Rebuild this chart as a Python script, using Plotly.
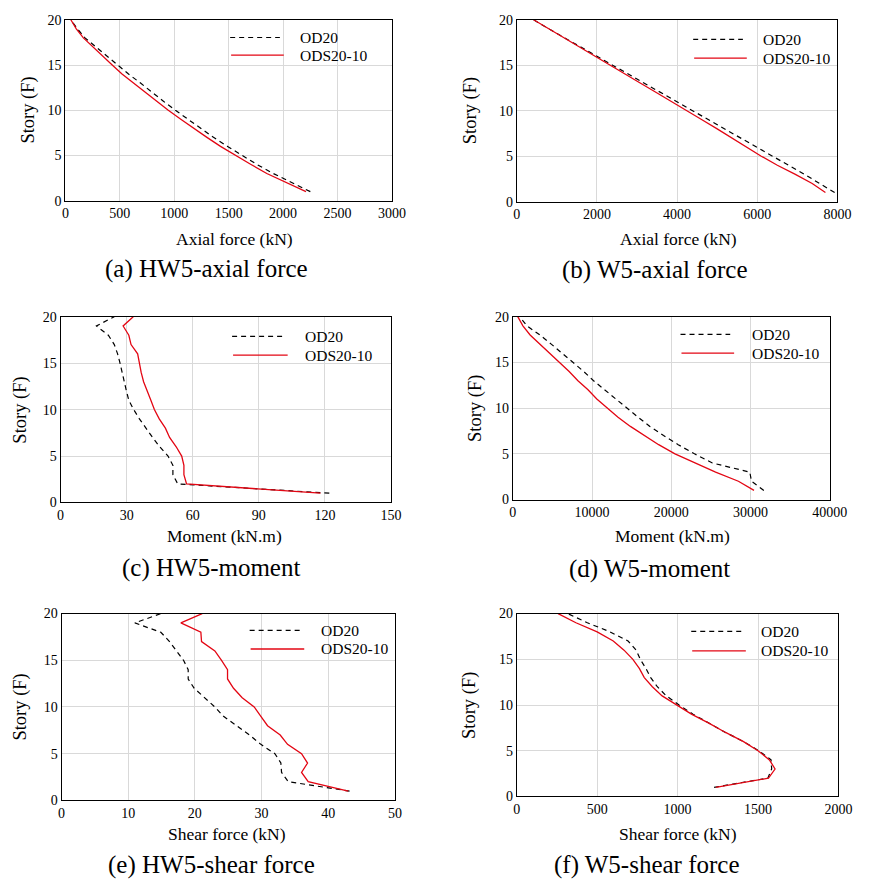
import plotly.graph_objects as go

W, H = 873, 889
FONT = "'Liberation Serif', 'Times New Roman', Times, serif"

stories = list(range(1, 21))

# (a) HW5 axial force (kN), story 1..20
a_od20 = [2250, 2080, 1910, 1760, 1620, 1490, 1360, 1240, 1120, 1010, 900, 800, 690, 580, 480, 370, 270, 180, 110, 50]
a_ods = [2210, 2025, 1850, 1705, 1565, 1425, 1300, 1175, 1060, 945, 840, 730, 630, 520, 430, 340, 250, 165, 100, 50]
# (b) W5 axial force (kN)
b_od20 = [7930, 7570, 7180, 6780, 6380, 5980, 5580, 5180, 4780, 4380, 3980, 3580, 3180, 2780, 2380, 1980, 1580, 1190, 800, 420]
b_ods = [7700, 7370, 6950, 6500, 6100, 5740, 5380, 5000, 4620, 4230, 3870, 3480, 3100, 2720, 2330, 1950, 1560, 1180, 800, 420]
# (c) HW5 moment (kN.m)
c_od20 = [122, 53.2, 51, 51, 48.8, 45, 41.8, 38.7, 35.8, 33.2, 31, 29.9, 29, 28, 27, 25.9, 24.4, 21.7, 16.3, 24.4]
c_ods = [118, 57.2, 56, 56, 55, 52.5, 49.5, 47.6, 44.8, 42.6, 41, 39.2, 37.7, 36.6, 35.8, 35, 32, 31, 28.4, 33]
# (d) W5 moment (kN.m)
d_od20 = [31690, 30130, 29920, 25190, 22930, 20880, 19030, 17300, 15820, 14430, 12990, 11630, 10190, 8960, 7600, 6290, 4850, 3410, 1770, 860]
d_ods = [30450, 28480, 25600, 22930, 20470, 18410, 16560, 14840, 13280, 11920, 10600, 9490, 8220, 7110, 5880, 4640, 3410, 2180, 1270, 620]
# (e) HW5 shear force (kN)
e_od20 = [43.2, 34, 33, 32.9, 32, 29.9, 28.2, 26.2, 24.3, 23, 21.4, 19.9, 19, 19, 18.3, 17.3, 16.2, 14.9, 11, 14.9]
e_ods = [43, 37, 36, 36.9, 36, 33.9, 32.8, 30.9, 29.9, 28.9, 27.1, 25.8, 24.9, 24.9, 24, 23, 21, 20.9, 17.9, 21.1]
# (f) W5 shear force (kN)
f_od20 = [1227, 1561, 1585, 1581, 1505, 1410, 1298, 1197, 1096, 1009, 930, 874, 833, 803, 768, 742, 692, 580, 439, 317]
f_ods = [1238, 1565, 1606, 1571, 1500, 1410, 1298, 1197, 1086, 995, 904, 843, 793, 762, 722, 667, 600, 500, 368, 257]

series_names = ["OD20", "ODS20-10"]
x_titles = ["Axial force (kN)", "Axial force (kN)", "Moment (kN.m)", "Moment (kN.m)",
            "Shear force (kN)", "Shear force (kN)"]
captions = ["(a) HW5-axial force", "(b) W5-axial force", "(c) HW5-moment",
            "(d) W5-moment", "(e) HW5-shear force", "(f) W5-shear force"]
x_ranges = [(0, 3000), (0, 8000), (0, 150), (0, 40000), (0, 50), (0, 2000)]
x_dticks = [500, 2000, 30, 10000, 10, 500]
data = [(a_od20, a_ods), (b_od20, b_ods), (c_od20, c_ods),
        (d_od20, d_ods), (e_od20, e_ods), (f_od20, f_ods)]

# plot areas in pixels: (left, right, top, bottom)
boxes = [(63, 398, 13, 197), (526, 855, 13, 198), (58, 397, 315, 504),
         (522, 847, 315, 501), (59, 401, 617, 807), (526, 856, 617, 803)]
xtitle_pos = [(236, 236), (692, 236), (226, 538), (686, 538), (229, 841), (691, 841)]
ytitle_pos = [(25, 105), (478, 105), (17, 410), (483, 408), (17, 712), (477, 710)]
cap_pos = [(208, 266), (668, 268), (212, 571), (662, 572), (213, 873), (660, 873)]
# legend: (line x0, line x1 dashed, y dashed, y solid, text x)
leg_pos = [(232, 283, 31, 49, 302), (707, 758, 33, 52, 777), (234, 287, 335, 354, 307),
           (694, 745, 333, 352, 765), (252, 304, 634, 653, 323), (705, 757, 635, 655, 775)]

def px(x):
    return x / W

def py(y):
    return 1 - y / H

RED = "#e30613"
fig = go.Figure()
layout = dict(width=W, height=H, margin=dict(l=0, r=0, t=0, b=0),
              paper_bgcolor="white", plot_bgcolor="white", showlegend=False,
              font=dict(family=FONT, color="black"))
annotations = []
shapes = []
for i in range(6):
    k = "" if i == 0 else str(i + 1)
    od, ods = data[i]
    fig.add_trace(go.Scatter(x=od, y=stories, mode="lines", name=series_names[0],
                             line=dict(color="black", width=1.2, dash="5px,4px"),
                             xaxis="x" + k, yaxis="y" + k))
    fig.add_trace(go.Scatter(x=ods, y=stories, mode="lines", name=series_names[1],
                             line=dict(color=RED, width=1.3),
                             xaxis="x" + k, yaxis="y" + k))
    l, r, t, b = boxes[i]
    layout["xaxis" + k] = dict(domain=[px(l), px(r)], anchor="y" + k,
                               range=list(x_ranges[i]), dtick=x_dticks[i], tick0=0,
                               tickformat="d",
                               showgrid=True, gridcolor="#d9d9d9", gridwidth=1,
                               zeroline=False, showline=True, linecolor="black",
                               linewidth=1, mirror=True, ticks="",
                               tickfont=dict(family=FONT, size=14, color="black"))
    layout["yaxis" + k] = dict(domain=[py(b), py(t)], anchor="x" + k,
                               range=[0, 20], dtick=5, tick0=0,
                               showgrid=True, gridcolor="#d9d9d9", gridwidth=1,
                               zeroline=False, showline=True, linecolor="black",
                               linewidth=1, mirror=True, ticks="",
                               tickfont=dict(family=FONT, size=14, color="black"))
    xt = xtitle_pos[i]
    annotations.append(dict(text=x_titles[i], x=px(xt[0]), y=py(xt[1]), xref="paper",
                            yref="paper", showarrow=False, xanchor="center",
                            yanchor="middle", font=dict(family=FONT, size=17.5)))
    yt = ytitle_pos[i]
    annotations.append(dict(text="Story (F)", x=px(yt[0]), y=py(yt[1]), xref="paper",
                            yref="paper", showarrow=False, textangle=-90,
                            xanchor="center", yanchor="middle",
                            font=dict(family=FONT, size=18.5)))
    cp = cap_pos[i]
    annotations.append(dict(text=captions[i], x=px(cp[0]), y=py(cp[1]), xref="paper",
                            yref="paper", showarrow=False, xanchor="center",
                            yanchor="middle", font=dict(family=FONT, size=25)))
    x0, x1, yd, ys, tx = leg_pos[i]
    shapes.append(dict(type="line", xref="paper", yref="paper", x0=px(x0), x1=px(x1),
                       y0=py(yd), y1=py(yd),
                       line=dict(color="black", width=1.2, dash="5px,4px")))
    shapes.append(dict(type="line", xref="paper", yref="paper", x0=px(x0 + 1),
                       x1=px(x1 + 4), y0=py(ys), y1=py(ys),
                       line=dict(color=RED, width=1.3)))
    for name, yy in zip(series_names, (yd, ys)):
        annotations.append(dict(text=name, x=px(tx), y=py(yy), xref="paper",
                                yref="paper", showarrow=False, xanchor="left",
                                yanchor="middle", font=dict(family=FONT, size=15.5)))

layout["annotations"] = annotations
layout["shapes"] = shapes
fig.update_layout(**layout)
fig.write_html("out.html")
